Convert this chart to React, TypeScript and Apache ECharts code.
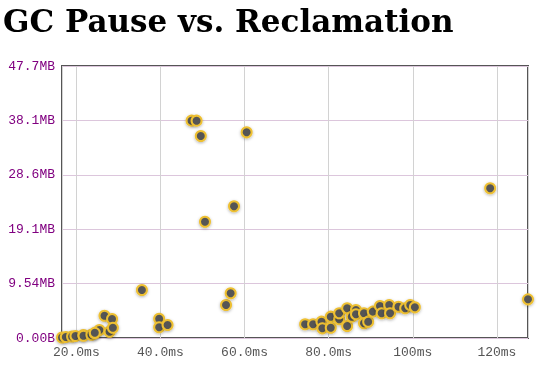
import React, { useEffect, useRef } from "react";
import * as echarts from "echarts";

// GC pause (ms) vs bytes reclaimed
const pauseMs: number[] = [
  16.6, 17.5, 19.0, 19.8, 21.7, 21.7, 23.6, 24.4, 25.5, 26.7, 27.9, 28.5, 28.7, 24.4,
  35.6, 39.7, 39.7, 41.7,
  47.4, 48.6, 49.6, 50.6, 55.6, 56.7, 57.5, 60.5,
  74.4, 76.3, 78.3, 78.5, 80.5, 80.5, 82.5, 82.5, 84.4, 84.4, 85.5, 86.5, 86.5, 88.4, 88.4,
  89.4, 90.5, 92.2, 92.6, 94.4, 94.6, 96.6, 98.2, 99.4, 100.5,
  118.4, 127.4,
];
const reclaimedBytes: number[] = [
  0.09e6, 0.18e6, 0.28e6, 0.37e6, 0.55e6, 0.42e6, 0.6e6, 0.85e6, 1.47e6, 4.1e6, 1.16e6, 3.49e6, 1.89e6, 0.95e6,
  8.82e6, 3.55e6, 1.97e6, 2.39e6,
  39.95e6, 39.95e6, 37.13e6, 21.38e6, 6.07e6, 8.22e6, 24.21e6, 37.81e6,
  2.52e6, 2.52e6, 3.0e6, 1.78e6, 3.92e6, 1.89e6, 3.44e6, 4.54e6, 5.46e6, 2.2e6, 3.92e6, 5.15e6, 4.36e6, 4.54e6, 2.7e6,
  3.0e6, 4.85e6, 5.88e6, 4.54e6, 6.07e6, 4.54e6, 5.75e6, 5.46e6, 6.07e6, 5.64e6,
  27.52e6, 7.11e6,
];
const yMax = 5e7;
const yStep = 1e7;
const titleText = "GC Pause vs. Reclamation";

function fmtBytes(v: number): string {
  if (Math.abs(v) < 1024) return v.toPrecision(3) + "B";
  if (Math.abs(v) < 1024 * 1024) return (v / 1024).toPrecision(3) + "KB";
  return (v / 1048576).toPrecision(3) + "MB";
}

export default function App() {
  const ref = useRef<HTMLDivElement>(null);
  useEffect(() => {
    if (!ref.current) return;
    const chart = echarts.init(ref.current, undefined, { renderer: "svg" });
    const data = pauseMs.map((x, i) => [x, reclaimedBytes[i]]);
    chart.setOption({
      animation: false,
      title: {
        text: titleText,
        left: 3,
        top: 5,
        padding: 0,
        textStyle: { fontFamily: "DejaVu Serif", fontWeight: "bold", fontSize: 31, color: "#000" },
      },
      grid: {
        left: 62,
        right: 12,
        top: 66,
        bottom: 28,
        show: true,
        borderColor: "#555",
        borderWidth: 2,
      },
      xAxis: {
        type: "value",
        min: Math.min(...pauseMs),
        max: Math.max(...pauseMs),
        axisLine: { show: false },
        axisTick: { show: false },
        splitLine: { show: true, lineStyle: { color: "#d2d2d2", width: 1 } },
        axisLabel: {
          fontFamily: "Liberation Mono",
          fontSize: 13,
          color: "#555",
          margin: 8,
          showMinLabel: false,
          showMaxLabel: false,
          formatter: (v: number) =>
            Math.abs(v / 20 - Math.round(v / 20)) < 1e-6 ? v.toPrecision(3) + "ms" : "",
        },
      },
      yAxis: {
        type: "value",
        min: 0,
        max: yMax,
        interval: yStep,
        axisLine: { show: false },
        axisTick: { show: false },
        splitLine: { show: true, lineStyle: { color: "#dcc6dc", width: 1 } },
        axisLabel: {
          fontFamily: "Liberation Mono",
          fontSize: 13,
          color: "#800080",
          margin: 7,
          formatter: (v: number) => fmtBytes(v),
        },
      },
      series: [
        {
          type: "scatter",
          data,
          symbol: "circle",
          symbolSize: 10,
          itemStyle: {
            color: "#555",
            borderColor: "#eec032",
            borderWidth: 2,
            shadowBlur: 3,
            shadowColor: "rgba(0,0,0,0.3)",
            shadowOffsetY: 1,
            opacity: 1,
          },
        },
      ],
    });
    return () => chart.dispose();
  }, []);
  return (
    <div
      ref={ref}
      style={{ position: "fixed", left: 0, top: 0, width: 540, height: 366 }}
    />
  );
}
